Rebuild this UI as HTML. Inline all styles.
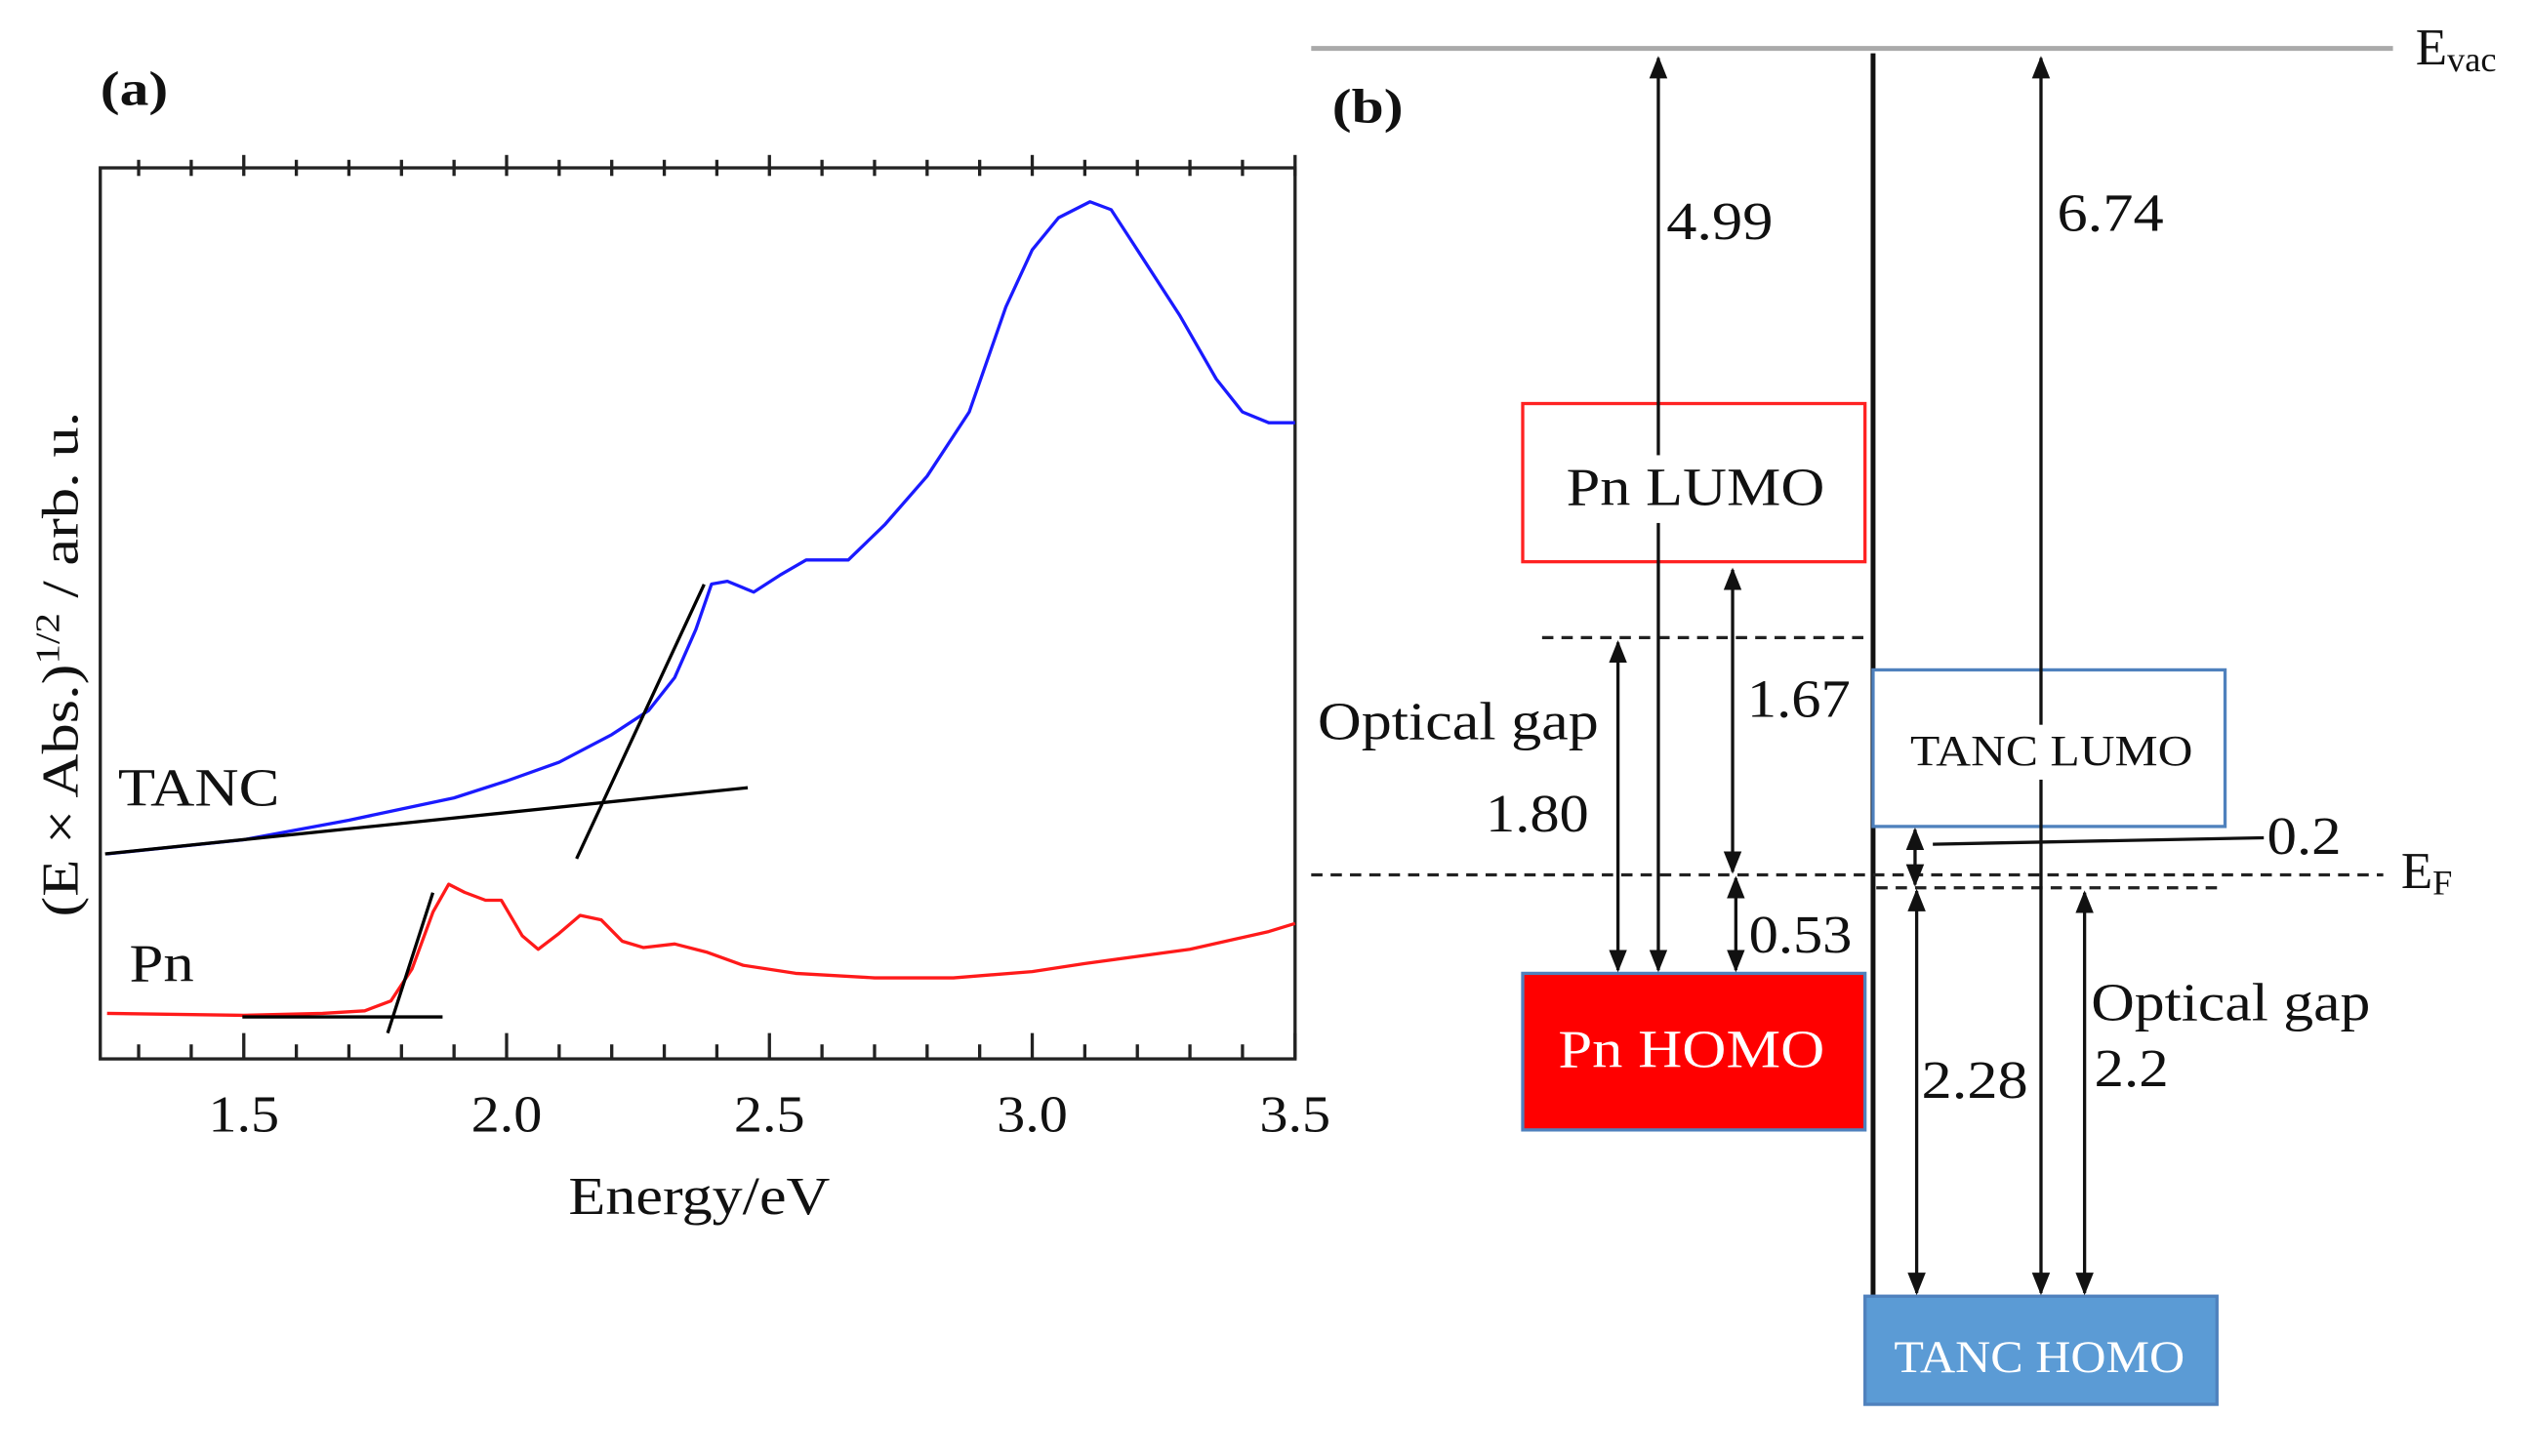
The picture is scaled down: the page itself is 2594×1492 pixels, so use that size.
<!DOCTYPE html>
<html><head><meta charset="utf-8"><style>
html,body{margin:0;padding:0;background:#fff}
svg{display:block}
text{font-family:"Liberation Serif",serif;fill:#111}
</style></head><body>
<svg id="root" width="2594" height="1492" viewBox="0 0 1568 902" xmlns="http://www.w3.org/2000/svg">
<defs>
<marker id="ah" viewBox="0 0 10 10" refX="9" refY="5" markerWidth="7" markerHeight="7" orient="auto-start-reverse"><path d="M0,1 L10,5 L0,9 z" fill="#111"/></marker>
</defs>
<g id="panelA">
<text x="62" y="65" font-size="30" font-weight="bold" textLength="42" lengthAdjust="spacingAndGlyphs">(a)</text>
<rect x="62" y="104" width="740" height="552" fill="none" stroke="#222" stroke-width="2"/>
<g id="ticks"></g>
<g id="series"></g>
<g stroke="#000" stroke-width="2">
<line x1="65" y1="529" x2="463" y2="488"/>
<line x1="357" y1="532" x2="436" y2="362"/>
<line x1="150" y1="630" x2="274" y2="630"/>
<line x1="240" y1="640" x2="268" y2="553"/>
</g>
<text x="73" y="499" font-size="33" textLength="100" lengthAdjust="spacingAndGlyphs">TANC</text>
<text x="80" y="608" font-size="33" textLength="40" lengthAdjust="spacingAndGlyphs">Pn</text>
<text x="352" y="752" font-size="33" textLength="162" lengthAdjust="spacingAndGlyphs">Energy/eV</text>
<text transform="translate(48,568) rotate(-90)" font-size="32" textLength="313" lengthAdjust="spacingAndGlyphs">(E × Abs.)<tspan baseline-shift="super" font-size="21">1/2</tspan> / arb. u.</text>
</g>
<g id="panelB" stroke-width="2">
<line x1="812" y1="30" x2="1482" y2="30" stroke="#aaa" stroke-width="3"/>
<text x="1496" y="40" font-size="32">E<tspan font-size="22" dy="4">vac</tspan></text>
<text x="825" y="76" font-size="30" font-weight="bold" textLength="44" lengthAdjust="spacingAndGlyphs">(b)</text>
<line x1="1160" y1="33" x2="1160" y2="805" stroke="#111" stroke-width="3"/>
<line x1="812" y1="542" x2="1476" y2="542" stroke="#222" stroke-dasharray="7,5"/>
<text x="1487" y="550" font-size="32">E<tspan font-size="22" dy="4">F</tspan></text>
<line x1="955" y1="395" x2="1157" y2="395" stroke="#222" stroke-dasharray="7,5"/>
<line x1="1162" y1="550" x2="1375" y2="550" stroke="#222" stroke-dasharray="7,5"/>
<rect x="943" y="250" width="212" height="98" fill="#fff" stroke="#f22"/>
<rect x="943" y="603" width="212" height="97" fill="#f00" stroke="#4f81bd"/>
<rect x="1160" y="415" width="218" height="97" fill="#fff" stroke="#4f81bd"/>
<rect x="1155" y="803" width="218" height="67" fill="#5b9bd5" stroke="#4f81bd"/>
<g stroke="#111" stroke-width="2" fill="none">
<line x1="1027" y1="36" x2="1027" y2="601" marker-start="url(#ah)" marker-end="url(#ah)"/>
<line x1="1002" y1="398" x2="1002" y2="601" marker-start="url(#ah)" marker-end="url(#ah)"/>
<line x1="1073" y1="353" x2="1073" y2="540" marker-start="url(#ah)" marker-end="url(#ah)"/>
<line x1="1075" y1="544" x2="1075" y2="601" marker-start="url(#ah)" marker-end="url(#ah)"/>
<line x1="1264" y1="36" x2="1264" y2="801" marker-start="url(#ah)" marker-end="url(#ah)"/>
<line x1="1186" y1="514" x2="1186" y2="548" marker-start="url(#ah)" marker-end="url(#ah)"/>
<line x1="1187" y1="552" x2="1187" y2="801" marker-start="url(#ah)" marker-end="url(#ah)"/>
<line x1="1291" y1="553" x2="1291" y2="801" marker-start="url(#ah)" marker-end="url(#ah)"/>
<line x1="1197" y1="523" x2="1402" y2="519"/>
</g>
<rect x="1002" y="282" width="50" height="42" fill="#fff" stroke="none"/>
<rect x="1240" y="449" width="50" height="34" fill="#fff" stroke="none"/>
<text x="970" y="313" font-size="33" textLength="160" lengthAdjust="spacingAndGlyphs">Pn LUMO</text>
<text x="965" y="661" font-size="33" textLength="165" lengthAdjust="spacingAndGlyphs" style="fill:#fff">Pn HOMO</text>
<text x="1183" y="474" font-size="27" textLength="175" lengthAdjust="spacingAndGlyphs">TANC LUMO</text>
<text x="1173" y="850" font-size="28" textLength="180" lengthAdjust="spacingAndGlyphs" style="fill:#fff">TANC HOMO</text>
<text x="1032" y="148" font-size="33" textLength="66" lengthAdjust="spacingAndGlyphs">4.99</text>
<text x="1274" y="143" font-size="33" textLength="66" lengthAdjust="spacingAndGlyphs">6.74</text>
<text x="816" y="458" font-size="33" textLength="174" lengthAdjust="spacingAndGlyphs">Optical gap</text>
<text x="920" y="515" font-size="33" textLength="64" lengthAdjust="spacingAndGlyphs">1.80</text>
<text x="1082" y="444" font-size="33" textLength="64" lengthAdjust="spacingAndGlyphs">1.67</text>
<text x="1083" y="590" font-size="33" textLength="64" lengthAdjust="spacingAndGlyphs">0.53</text>
<text x="1404" y="529" font-size="33" textLength="46" lengthAdjust="spacingAndGlyphs">0.2</text>
<text x="1190" y="680" font-size="33" textLength="66" lengthAdjust="spacingAndGlyphs">2.28</text>
<text x="1295" y="632" font-size="33" textLength="173" lengthAdjust="spacingAndGlyphs">Optical gap</text>
<text x="1297" y="673" font-size="33" textLength="46" lengthAdjust="spacingAndGlyphs">2.2</text>
</g>
</svg>
<script>
const tancE=[1.24,1.5,1.7,1.9,2.0,2.1,2.2,2.27,2.32,2.36,2.39,2.42,2.47,2.52,2.57,2.65,2.72,2.8,2.88,2.95,3.0,3.05,3.11,3.15,3.2,3.28,3.35,3.4,3.45,3.5];
const tancY=[23.0,24.6,26.8,29.3,31.2,33.3,36.4,39.1,42.8,48.2,53.3,53.6,52.4,54.3,56.0,56.0,60.0,65.4,72.6,84.4,90.8,94.4,96.2,95.3,90.8,83.5,76.3,72.6,71.4,71.4];
const pnE=[1.24,1.5,1.65,1.73,1.78,1.82,1.86,1.89,1.92,1.96,1.99,2.03,2.06,2.1,2.14,2.18,2.22,2.26,2.32,2.38,2.45,2.55,2.7,2.85,3.0,3.1,3.3,3.45,3.5];
const pnY=[5.1,4.9,5.1,5.4,6.5,10.1,16.5,19.6,18.7,17.8,17.8,13.8,12.3,14.1,16.1,15.6,13.2,12.5,12.9,12.0,10.5,9.6,9.1,9.1,9.8,10.7,12.3,14.3,15.2];
const xTickLabels=["1.5","2.0","2.5","3.0","3.5"];
const NS="http://www.w3.org/2000/svg";
const X0=62,X1=802,Y0=656,Y1=104,EMIN=1.227,EMAX=3.5;
function sx(e){return X0+(e-EMIN)/(EMAX-EMIN)*(X1-X0);}
function sy(v){return Y0-v*(Y0-Y1)/100;}
function mk(t,a){const el=document.createElementNS(NS,t);for(const k in a)el.setAttribute(k,a[k]);return el;}
const tg=document.getElementById('ticks');
for(let i=13;i<=35;i++){
 const e=i/10;const x=sx(e);const major=(i%5===0);
 const t1=mk('line',{x1:x,y1:Y1-(major?8:5),x2:x,y2:Y1+5,stroke:'#222','stroke-width':2});
 
 
 tg.appendChild(t1);
 const t2=mk('line',{x1:x,y1:Y0,x2:x,y2:Y0-(major?16:9),stroke:'#222','stroke-width':2});
 
 
 tg.appendChild(t2);
}
xTickLabels.forEach(function(l){
 const t=mk('text',{x:sx(parseFloat(l))-22,y:701,'font-size':32,textLength:44,lengthAdjust:'spacingAndGlyphs'});
 t.textContent=l;
 
 
 tg.appendChild(t);
});
const sg=document.getElementById('series');
function line(E,Y,c,name){
 const d=E.map(function(e,i){return (i?'L':'M')+sx(e).toFixed(1)+','+sy(Y[i]).toFixed(1);}).join(' ');
 const p=mk('path',{d:d,fill:'none',stroke:c,'stroke-width':2,'stroke-linejoin':'round'});
 
 
 sg.appendChild(p);
}
line(tancE,tancY,'#1a1aff','tanc-spectrum');
line(pnE,pnY,'#ff1a1a','pn-spectrum');
</script>
</body></html>
